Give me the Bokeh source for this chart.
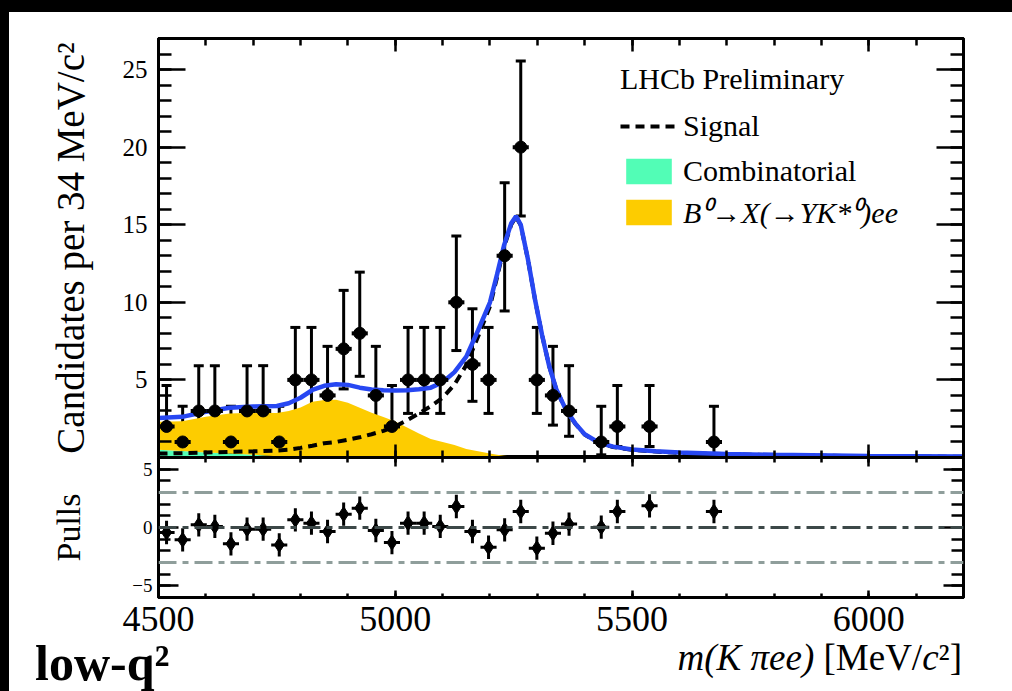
from bokeh.plotting import figure
from bokeh.models import (Range1d, FixedTicker, LinearAxis, ColumnDataSource, Whisker,
                          TeeHead, Legend, LegendItem, Span, CustomLabelingPolicy, Div)
from bokeh.layouts import column
from bokeh.embed import file_html
from bokeh.resources import INLINE

# ---------------- data ----------------
bin_width = 34
bin_centers = [4517, 4551, 4585, 4619, 4653, 4687, 4721, 4755, 4789, 4823, 4857, 4891, 4925,
               4959, 4993, 5027, 5061, 5095, 5129, 5163, 5197, 5231, 5265, 5299, 5333, 5367,
               5435, 5469, 5537, 5673]
counts = [2, 1, 3, 3, 1, 3, 3, 1, 5, 5, 4, 7, 8, 4, 2, 5, 5, 5, 10, 6, 5, 13, 20, 5, 4, 3,
          1, 2, 2, 1]
err_low = [1.292, 0.827, 1.633, 1.633, 0.827, 1.633, 1.633, 0.827, 2.159, 2.159, 1.914, 2.581,
           2.768, 1.914, 1.292, 2.159, 2.159, 2.159, 3.108, 2.379, 2.159, 3.558, 4.434, 2.159,
           1.914, 1.633, 0.827, 1.292, 1.292, 0.827]
err_high = [2.638, 2.300, 2.918, 2.918, 2.300, 2.918, 2.918, 2.300, 3.382, 3.382, 3.162, 3.770,
            3.945, 3.162, 2.638, 3.382, 3.382, 3.382, 4.266, 3.583, 3.382, 4.697, 5.546, 3.382,
            3.162, 2.918, 2.300, 2.638, 2.638, 2.300]
pulls = [-0.43, -1.06, 0.23, 0.09, -1.40, -0.14, -0.14, -1.49, 0.66, 0.37, -0.34, 1.14, 1.66,
         -0.26, -1.29, 0.37, 0.37, 0.09, 1.80, -0.34, -1.69, -0.20, 1.37, -1.77, -0.49, 0.29,
         0.03, 1.37, 1.86, 1.37]

fit_mass = [4500, 4550, 4600, 4650, 4700, 4750, 4775, 4800, 4825, 4850, 4875, 4900, 4925, 4950,
            4975, 5000, 5025, 5050, 5075, 5100, 5125, 5150, 5175, 5200, 5215, 5230, 5245, 5255,
            5265, 5280, 5295, 5310, 5325, 5340, 5360, 5380, 5400, 5430, 5460, 5500, 5550, 5600,
            5700, 5800, 6000, 6200]
total_fit = [2.55, 2.62, 2.95, 3.20, 3.28, 3.32, 3.50, 3.85, 4.35, 4.62, 4.72, 4.68, 4.50, 4.38,
             4.33, 4.32, 4.34, 4.40, 4.50, 4.85, 5.50, 6.50, 8.20, 10.00, 11.80, 13.70, 15.10,
             15.55, 15.00, 12.80, 10.20, 7.90, 5.90, 4.40, 3.10, 2.20, 1.50, 0.95, 0.70, 0.52,
             0.40, 0.32, 0.23, 0.17, 0.10, 0.07]
signal_fit = [0.25, 0.28, 0.32, 0.36, 0.40, 0.45, 0.50, 0.62, 0.76, 0.92, 1.00, 1.15, 1.30, 1.50,
              1.72, 2.00, 2.40, 2.85, 3.30, 3.85, 4.70, 5.95, 7.80, 9.75, 11.62, 13.58, 15.02,
              15.50, 14.97, 12.78, 10.19, 7.89, 5.89, 4.39, 3.08, 2.18, 1.48, 0.93, 0.68, 0.50,
              0.38, 0.30, 0.21, 0.15, 0.08, 0.05]
comb_fit = [0.50, 0.42, 0.33, 0.26, 0.18, 0.08, 0.03, 0.0, 0.0, 0.0, 0.0, 0.0, 0.0, 0.0,
            0.0, 0.0, 0.0, 0.0, 0.0, 0.0, 0.0, 0.0, 0.0, 0.0, 0.0, 0.0, 0.0, 0.0,
            0.0, 0.0, 0.0, 0.0, 0.0, 0.0, 0.0, 0.0, 0.0, 0.0, 0.0, 0.0, 0.0, 0.0,
            0.0, 0.0, 0.0, 0.0]
partreco_top = [2.30, 2.34, 2.63, 2.84, 2.88, 2.87, 3.00, 3.23, 3.59, 3.70, 3.72, 3.53, 3.20, 2.88,
                2.61, 2.32, 1.94, 1.55, 1.20, 1.00, 0.80, 0.55, 0.40, 0.25, 0.18, 0.12, 0.08,
                0.05, 0.03, 0.02, 0.01, 0.0, 0.0, 0.0, 0.0, 0.0, 0.0, 0.0, 0.0, 0.0, 0.0, 0.0,
                0.0, 0.0, 0.0, 0.0]

x_major = [4500, 5000, 5500, 6000]
x_minor = list(range(4500, 6201, 100))
y_major_top = [5, 10, 15, 20, 25]
y_minor_top = list(range(0, 28))
y_major_pull = [-5, 0, 5]
y_minor_pull = list(range(-6, 7))

FONT = "Liberation Serif"
BLUE = "#2747f2"
YELLOW = "#fdcc00"
GREEN = "#52fdb6"

data_src = ColumnDataSource(dict(
    x=bin_centers, y=counts,
    lo=[c - e for c, e in zip(counts, err_low)],
    hi=[c + e for c, e in zip(counts, err_high)]))
pull_src = ColumnDataSource(dict(x=bin_centers, y=pulls))
fit_src = ColumnDataSource(dict(m=fit_mass, tot=total_fit, sig=signal_fit,
                                comb=comb_fit, part=partreco_top))

HIDE_CODE = "for (const i of indices) { indices.unset(i) }\nreturn indices"


def add_axis(fig, side, ticker, major_in, minor_in, labels=False, font_size="25px",
             standoff=10, title=None, title_size="30px", title_standoff=10):
    ax = LinearAxis(ticker=ticker, major_tick_in=major_in, major_tick_out=0,
                    minor_tick_in=minor_in, minor_tick_out=0,
                    axis_line_width=3, axis_line_color="black",
                    major_tick_line_width=2.5, minor_tick_line_width=2.5,
                    major_label_text_font=FONT, major_label_text_color="black")
    if labels:
        ax.major_label_text_font_size = font_size
        ax.major_label_standoff = standoff
    else:
        ax.major_label_text_font_size = "0px"
        ax.major_label_standoff = 0
        ax.major_label_policy = CustomLabelingPolicy(code=HIDE_CODE)
    if title is not None:
        ax.axis_label = title
        ax.axis_label_text_font = FONT
        ax.axis_label_text_font_size = title_size
        ax.axis_label_text_font_style = "normal"
        ax.axis_label_standoff = title_standoff
        ax.axis_label_text_color = "black"
    fig.add_layout(ax, side)
    return ax


def style(fig):
    fig.xgrid.visible = False
    fig.ygrid.visible = False
    fig.outline_line_color = "black"
    fig.outline_line_width = 3
    fig.background_fill_color = "white"
    fig.border_fill_color = "white"


# ---------------- top panel ----------------
top = figure(frame_width=805, frame_height=419, x_range=Range1d(4500, 6200),
             y_range=Range1d(0, 27), output_backend="svg", toolbar_location=None,
             min_border_left=149, min_border_right=49, min_border_top=26, min_border_bottom=0,
             x_axis_location=None, y_axis_location=None)
style(top)

add_axis(top, "left", FixedTicker(ticks=y_major_top, minor_ticks=y_minor_top), 27, 13,
         labels=True, font_size="25px", standoff=11,
         title="Candidates per 34 MeV/c²", title_size="39px", title_standoff=28)
add_axis(top, "right", FixedTicker(ticks=y_major_top, minor_ticks=y_minor_top), 27, 13)
add_axis(top, "above", FixedTicker(ticks=x_major, minor_ticks=x_minor), 13, 7)
add_axis(top, "below", FixedTicker(ticks=x_major, minor_ticks=x_minor), 13, 7)

r_comb = top.varea(x="m", y1=0, y2="comb", source=fit_src, fill_color=GREEN)
r_part = top.varea(x="m", y1="comb", y2="part", source=fit_src, fill_color=YELLOW)
r_sig = top.line(x="m", y="sig", source=fit_src, line_color="black", line_width=4,
                 line_dash="9 6")
r_tot = top.line(x="m", y="tot", source=fit_src, line_color=BLUE, line_width=4.5)

top.add_layout(Whisker(source=data_src, base="x", lower="lo", upper="hi", dimension="height",
                       line_color="black", line_width=3,
                       upper_head=TeeHead(size=10, line_width=3, line_color="black"),
                       lower_head=TeeHead(size=10, line_width=3, line_color="black")))
top.rect(x="x", y="y", width=bin_width, height=4, height_units="screen", source=data_src,
         fill_color="black", line_color=None)
top.scatter(x="x", y="y", source=data_src, marker="circle", size=12, fill_color="black",
            line_color="black")

legend_common = dict(label_text_font=FONT, label_text_font_size="30px",
                     label_text_color="black",
                     glyph_width=57, glyph_height=32, label_standoff=6, spacing=11,
                     padding=0, margin=0, border_line_alpha=0, background_fill_alpha=0)
leg1 = Legend(items=[LegendItem(label="Signal", renderers=[r_sig]),
                     LegendItem(label="Combinatorial", renderers=[r_comb])],
              location=(462, 269), title="LHCb Preliminary",
              title_text_font=FONT, title_text_font_size="30px", title_text_font_style="normal",
              title_text_color="black", title_standoff=13, **legend_common)
leg2 = Legend(items=[LegendItem(label="B⁰→X(→YK*⁰)ee", renderers=[r_part])],
              location=(462, 225), label_text_font_style="italic", **legend_common)
top.add_layout(leg1)
top.add_layout(leg2)

# ---------------- pulls panel ----------------
bot = figure(frame_width=805, frame_height=140, x_range=top.x_range,
             y_range=Range1d(-6, 6), output_backend="svg", toolbar_location=None,
             min_border_left=149, min_border_right=49, min_border_top=0, min_border_bottom=50,
             x_axis_location=None, y_axis_location=None)
style(bot)

add_axis(bot, "left", FixedTicker(ticks=y_major_pull, minor_ticks=y_minor_pull), 20, 12,
         labels=True, font_size="19px", standoff=6,
         title="Pulls", title_size="34px", title_standoff=42)
add_axis(bot, "right", FixedTicker(ticks=y_major_pull, minor_ticks=y_minor_pull), 20, 12)
add_axis(bot, "above", FixedTicker(ticks=x_major, minor_ticks=x_minor), 9, 5)
add_axis(bot, "below", FixedTicker(ticks=x_major, minor_ticks=x_minor), 7, 4,
         labels=True, font_size="36px", standoff=9)

for loc, col in [(3, "#8f9e9b"), (-3, "#8f9e9b"), (0, "#3c4848")]:
    bot.add_layout(Span(location=loc, dimension="width", line_color=col, line_width=3,
                        line_dash="18 6 6 6"))

bot.rect(x="x", y="y", width=3, width_units="screen", height=2, source=pull_src,
         fill_color="black", line_color=None)
bot.rect(x="x", y="y", width=bin_width, height=3, height_units="screen", source=pull_src,
         fill_color="black", line_color=None)
bot.scatter(x="x", y="y", source=pull_src, marker="diamond", size=15, fill_color="black",
            line_color="black")

# ---------------- caption strip (axis title and bin label) ----------------
cap_html = (
    '<div style="position:relative;width:1003px;height:44px;background:white;'
    "font-family:'Liberation Serif';color:black;\">"
    '<span style="position:absolute;left:26px;bottom:3px;line-height:1;font-size:50px;'
    'font-weight:bold;white-space:nowrap;">low-q²</span>'
    '<span style="position:absolute;right:50px;bottom:15px;line-height:1;font-size:37px;'
    'white-space:nowrap;"><i>m(K πee)</i> [MeV/<i>c</i>²]</span>'
    '</div>')
cap = Div(text=cap_html, width=1003, height=44, margin=0)

layout = column(top, bot, cap, spacing=0,
                styles={"background-color": "white", "border-top": "12px solid black",
                        "border-left": "9px solid black"})

open("out.html", "w").write(file_html(layout, INLINE))
